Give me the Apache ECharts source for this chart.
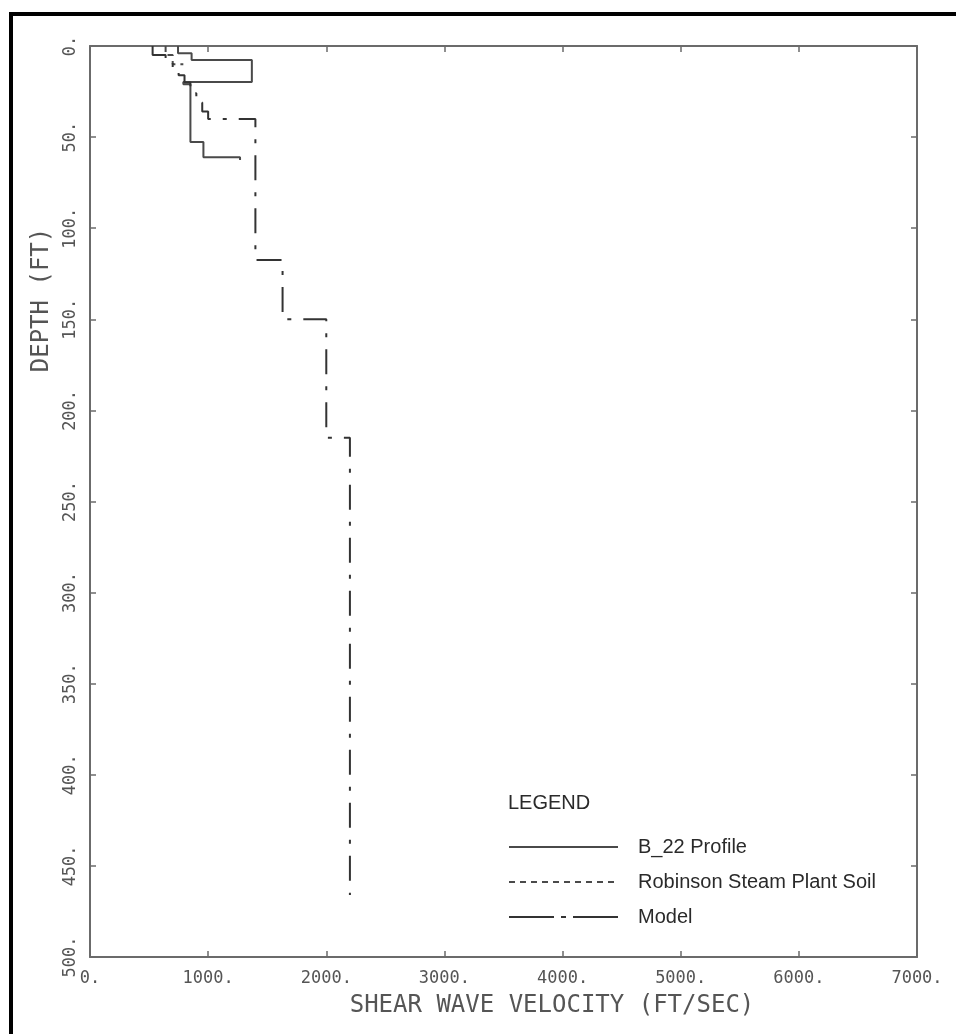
<!DOCTYPE html>
<html>
<head>
<meta charset="utf-8">
<title>Shear Wave Velocity Profile</title>
<script src="https://cdn.jsdelivr.net/npm/echarts@6/dist/echarts.min.js"></script>
<style>
  html, body { margin: 0; padding: 0; background: #fff; }
  #chart { width: 956px; height: 1034px; }
</style>
</head>
<body>
<div id="chart"></div>
<script>
// Axis ticks
const velocityTicks = [0, 1000, 2000, 3000, 4000, 5000, 6000, 7000];
const depthTicks = [0, 50, 100, 150, 200, 250, 300, 350, 400, 450, 500];

// B_22 profile (stepped): velocity (ft/sec) and depth (ft) vertices
const b22Velocity = [745, 745, 860, 860, 1370, 1370, 790, 790, 850, 850, 960, 960, 1270, 1270];
const b22Depth    = [0,   4,   4,   7.7, 7.7,  19.8, 19.8, 21,  21,  52.7, 52.7, 61, 61,  62.5];

// Robinson Steam Plant soil profile
const robinsonVelocity = [640, 640, 700, 700, 790];
const robinsonDepth    = [0,   5,   5,   10,  10];

// Model profile
const modelVelocity = [530, 530, 640, 640, 700, 700, 750, 750, 800, 800, 850, 850, 900, 900, 950, 950, 1000, 1000, 1400, 1400, 1630, 1630, 2000, 2000, 2200, 2200];
const modelDepth    = [0,   5,   5,   9,   9,   12,  12,  16,  16,  20,  20,  26,  26,  31,  31,  36,  36,   40,   40,   117.5, 117.5, 150, 150, 215, 215, 466];

const zip = (xs, ys) => xs.map((x, i) => [x, ys[i]]);

const MONO = '"DejaVu Sans Mono", monospace';
const SANS = '"Liberation Sans", Arial, sans-serif';
const AXIS_GRAY = '#6b6b6b';
const TEXT_GRAY = '#555';
const LINE_GRAY = '#4a4a4a';
const MODEL_DASH = [25, 12, 4, 12];

const chart = echarts.init(document.getElementById('chart'), null, { renderer: 'canvas' });

// shared frame styling: axis lines stay on the plot edges, ticks point inward
const frameAxis = {
  axisLine: { show: true, onZero: false, lineStyle: { color: AXIS_GRAY, width: 2 } },
  axisTick: { show: true, inside: true, length: 6, lineStyle: { color: AXIS_GRAY, width: 1.5 } },
  splitLine: { show: false }
};

chart.setOption({
  animation: false,
  backgroundColor: '#fff',
  grid: { left: 90, top: 46, right: 39, bottom: 77, containLabel: false },
  xAxis: [
    Object.assign({
      type: 'value', position: 'bottom', min: 0, max: 7000, interval: 1000,
      axisLabel: {
        show: true, margin: 13, color: TEXT_GRAY,
        fontFamily: MONO, fontSize: 17,
        formatter: v => velocityTicks.includes(v) ? v + '.' : ''
      }
    }, frameAxis),
    Object.assign({
      type: 'value', position: 'top', min: 0, max: 7000, interval: 1000,
      axisLabel: { show: false }
    }, frameAxis)
  ],
  yAxis: [
    Object.assign({
      type: 'value', position: 'left', inverse: true, min: 0, max: 500, interval: 50,
      axisLabel: {
        show: true, rotate: 90, margin: 11, color: TEXT_GRAY,
        fontFamily: MONO, fontSize: 17,
        formatter: v => depthTicks.includes(v) ? v + '.' : ''
      }
    }, frameAxis),
    Object.assign({
      type: 'value', position: 'right', inverse: true, min: 0, max: 500, interval: 50,
      axisLabel: { show: false }
    }, frameAxis)
  ],
  legend: {
    show: true,
    orient: 'vertical',
    left: 508,
    top: 837,
    padding: 0,
    itemWidth: 109,
    itemHeight: 10,
    itemGap: 15,
    selectedMode: false,
    textStyle: {
      fontFamily: SANS,
      fontSize: 20,
      color: '#2a2a2a',
      padding: [0, 0, 0, 15]
    },
    data: [
      { name: 'B_22 Profile', itemStyle: { opacity: 0 }, lineStyle: { color: LINE_GRAY, width: 2 } },
      { name: 'Robinson Steam Plant Soil', itemStyle: { opacity: 0 }, lineStyle: { color: LINE_GRAY, width: 2, type: [6, 5] } },
      { name: 'Model', itemStyle: { opacity: 0 }, lineStyle: { color: '#333', width: 2, type: [45, 7, 5, 7] } }
    ]
  },
  series: [
    {
      name: 'B_22 Profile', type: 'line', xAxisIndex: 0, yAxisIndex: 0,
      data: zip(b22Velocity, b22Depth),
      symbol: 'none', silent: true,
      lineStyle: { color: LINE_GRAY, width: 2, type: 'solid' },
      itemStyle: { color: LINE_GRAY }
    },
    {
      name: 'Robinson Steam Plant Soil', type: 'line', xAxisIndex: 0, yAxisIndex: 0,
      data: zip(robinsonVelocity, robinsonDepth),
      symbol: 'none', silent: true,
      lineStyle: { color: LINE_GRAY, width: 2, type: [6, 5] },
      itemStyle: { color: LINE_GRAY }
    },
    {
      name: 'Model', type: 'line', xAxisIndex: 0, yAxisIndex: 0,
      data: zip(modelVelocity, modelDepth),
      symbol: 'none', silent: true,
      lineStyle: { color: '#333', width: 2, type: MODEL_DASH },
      itemStyle: { color: '#333' }
    }
  ],
  graphic: [
    // page frame (left and top bars)
    { type: 'rect', left: 9, top: 12, shape: { width: 4, height: 1022 }, style: { fill: '#000' }, silent: true },
    { type: 'rect', left: 9, top: 12, shape: { width: 947, height: 4 }, style: { fill: '#000' }, silent: true },
    // axis titles
    {
      type: 'text', x: 552, y: 1006, silent: true,
      style: { text: 'SHEAR WAVE VELOCITY (FT/SEC)', font: '24px ' + MONO, fill: TEXT_GRAY, textAlign: 'center', textVerticalAlign: 'middle' }
    },
    {
      type: 'text', x: 42, y: 300, rotation: Math.PI / 2, silent: true,
      style: { text: 'DEPTH (FT)', font: '24px ' + MONO, fill: TEXT_GRAY, textAlign: 'center', textVerticalAlign: 'middle' }
    },
    // legend heading
    {
      type: 'text', x: 508, y: 803, silent: true,
      style: { text: 'LEGEND', font: '20px ' + SANS, fill: '#2a2a2a', textAlign: 'left', textVerticalAlign: 'middle' }
    }
  ]
});
</script>
</body>
</html>
